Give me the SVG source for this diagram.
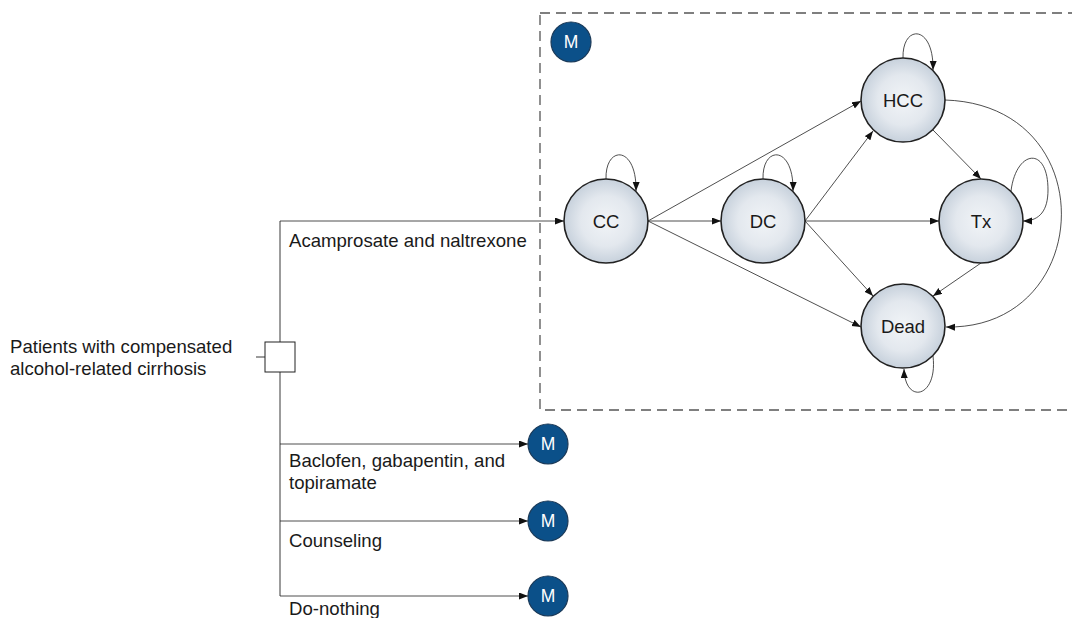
<svg xmlns="http://www.w3.org/2000/svg" width="1072" height="618" viewBox="0 0 1072 618">
<style>
text{font-family:"Liberation Sans",Arial,sans-serif;fill:#1a1a1a}
.lbl{font-size:18.6px}
.st{fill:url(#g);stroke:#222;stroke-width:1.6}
.stt{font-size:18.5px;text-anchor:middle}
.m{fill:#0b5089;stroke:#1c3a58;stroke-width:1.2}
.mt{font-size:17.5px;text-anchor:middle;fill:#fff}
.e{fill:none;stroke:#222;stroke-width:0.8;marker-end:url(#a)}
.l{fill:none;stroke:#222;stroke-width:0.9}
</style>
<defs>
<radialGradient id="g" cx="50%" cy="50%" r="50%">
<stop offset="0" stop-color="#f1f4f7"/>
<stop offset="0.6" stop-color="#e3e8ee"/>
<stop offset="1" stop-color="#c7d1dc"/>
</radialGradient>
<marker id="a" markerUnits="userSpaceOnUse" markerWidth="10" markerHeight="8" refX="9" refY="3.5" orient="auto">
<path d="M0,0 L9,3.5 L0,7 z" fill="#111"/>
</marker>
</defs>
<rect x="540" y="13" width="545" height="397" fill="none" stroke="#555" stroke-width="1.3" stroke-dasharray="10,6"/>
<g id="connectors">
<path class="l" d="M256 357 H265"/>
<path class="l" d="M280 342 V221"/>
<path class="l" d="M280 372 V596"/>
<path class="e" d="M280 221 H564"/>
<path class="e" d="M280 444 H528"/>
<path class="e" d="M280 521 H528"/>
<path class="e" d="M280 596 H528"/>
<path class="e" d="M648 221 L861 101"/>
<path class="e" d="M648 221 L721 221"/>
<path class="e" d="M648 221 L861 327"/>
<path class="e" d="M805 221 L873 131"/>
<path class="e" d="M805 221 L939 221"/>
<path class="e" d="M805 221 L873 296"/>
<path class="e" d="M933 130 L981 179"/>
<path class="e" d="M981 263 L933 296"/>
<path class="e" d="M945 100 C1105 105, 1095 330, 946 327"/>
<path class="e" d="M606 179 C605 145, 637 145, 636 191"/>
<path class="e" d="M763 179 C762 145, 794 145, 793 191"/>
<path class="e" d="M903 58 C902 24, 934 24, 933 70"/>
<path class="e" d="M1011 191 C1016 150, 1048 145, 1048 190 C1048 210, 1040 221, 1023 221"/>
<path class="e" d="M933 356 C938 398, 905 405, 904 369"/>
</g>
<g id="decision"><rect x="265" y="342" width="30" height="30" fill="#fff" stroke="#222" stroke-width="1"/></g>
<g id="root-label">
<text class="lbl" x="10" y="353">Patients with compensated</text>
<text class="lbl" x="10" y="374.5">alcohol-related cirrhosis</text>
</g>
<g id="branch-labels">
<text class="lbl" x="289" y="247">Acamprosate and naltrexone</text>
<text class="lbl" x="289" y="467">Baclofen, gabapentin, and</text>
<text class="lbl" x="289" y="488.5">topiramate</text>
<text class="lbl" x="289" y="547">Counseling</text>
<text class="lbl" x="289" y="615">Do-nothing</text>
</g>
<g id="m-top"><circle class="m" cx="571" cy="42" r="20"/><text class="mt" x="571" y="48">M</text></g>
<g id="m-1"><circle class="m" cx="548" cy="444" r="20"/><text class="mt" x="548" y="450">M</text></g>
<g id="m-2"><circle class="m" cx="548" cy="521" r="20"/><text class="mt" x="548" y="527">M</text></g>
<g id="m-3"><circle class="m" cx="548" cy="596" r="20"/><text class="mt" x="548" y="602">M</text></g>
<g id="CC"><circle class="st" cx="606" cy="221" r="42"/><text class="stt" x="606" y="227.5">CC</text></g>
<g id="DC"><circle class="st" cx="763" cy="221" r="42"/><text class="stt" x="763" y="227.5">DC</text></g>
<g id="HCC"><circle class="st" cx="903" cy="100" r="42"/><text class="stt" x="903" y="106.5">HCC</text></g>
<g id="Tx"><circle class="st" cx="981" cy="221" r="42"/><text class="stt" x="981" y="227.5">Tx</text></g>
<g id="Dead"><circle class="st" cx="903" cy="326" r="42"/><text class="stt" x="903" y="332.5">Dead</text></g>
</svg>
